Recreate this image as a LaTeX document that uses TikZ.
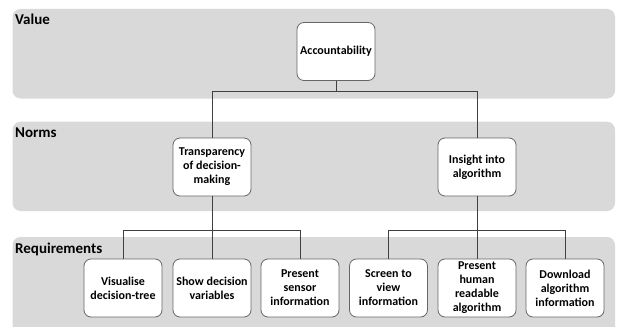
\documentclass[tikz,border=0pt]{standalone}
\usepackage{fontspec}
\setmainfont{Carlito}

\begin{document}
\begin{tikzpicture}[x=1pt,y=-1pt,
    band/.style={fill=black!15,rounded corners=8pt},
    lvl/.style={anchor=base west,inner sep=0pt,font=\fontsize{15}{18}\selectfont\bfseries},
    box/.style={draw=black!60,line width=0.8pt,fill=white,rounded corners=7pt,
      minimum width=78pt,minimum height=58pt,inner sep=1pt,align=center,
      font=\fontsize{12}{14}\selectfont\bfseries},
    link/.style={draw=black!75,line width=0.9pt}]
      \useasboundingbox (0,0) rectangle (617,326);
      \clip (0,0) rectangle (617,326);
      % Bands
      \fill[band] (12.5,9) rectangle (615,98.5);
      \fill[band] (12.5,121.7) rectangle (615,211);
      \fill[band] (12.5,237) rectangle (615,340);
      \node[lvl] (lval) at (15,25) {Value};
      \node[lvl] (lnorm) at (15,137.5) {Norms};
      \node[lvl] (lreq) at (15,253.3) {Requirements};
      % Value and norms
      \node[box] (acc) at (336,51.5) {Accountability};
      \node[box] (trans) at (212,167) {Transparency\\of decision-\\making};
      \node[box] (ins) at (477,167) {Insight into\\algorithm};
      % Requirements
      \node[box] (vis) at (123,288) {Visualise\\decision-tree};
      \node[box] (show) at (212,288) {Show decision\\variables};
      \node[box] (sens) at (300,288) {Present\\sensor\\information};
      \node[box] (scr) at (388.5,288) {Screen to\\view\\information};
      \node[box] (hum) at (477,288) {Present\\human\\readable\\algorithm};
      \node[box] (dl) at (565,288) {Download\\algorithm\\information};
      % Lines
      \path (acc.south) ++(0,11) coordinate (accj);
      \draw[link] (acc.south) -- (accj);
      \draw[link] (trans.north) |- (accj) -| (ins.north);
      \path (trans.south) ++(0,34) coordinate (tj);
      \draw[link] (trans.south) -- (show.north);
      \draw[link] (vis.north) |- (tj) -| (sens.north);
      \path (ins.south) ++(0,34) coordinate (ij);
      \draw[link] (ins.south) -- (hum.north);
      \draw[link] (scr.north) |- (ij) -| (dl.north);
    \end{tikzpicture}
\end{document}
